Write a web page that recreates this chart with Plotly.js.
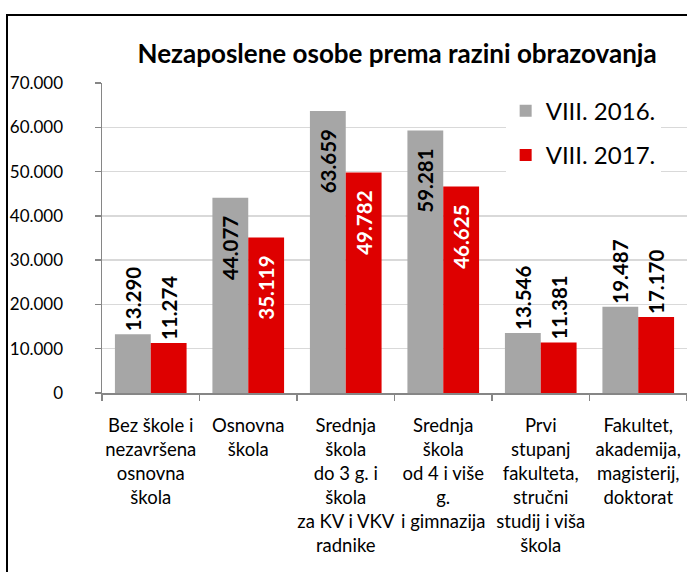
<!DOCTYPE html>
<html><head><meta charset="utf-8">
<script src="https://cdn.plot.ly/plotly-3.0.1.min.js"></script>
<style>html,body{margin:0;padding:0;background:#fff}#wrap{position:relative;width:687px;height:572px}#chart{width:687px;height:572px}#frame{position:absolute;left:6px;top:14px;width:700px;height:600px;border-left:2px solid #000;border-top:2px solid #000;pointer-events:none}</style>
</head><body><div id="wrap"><div id="chart"></div><div id="frame"></div></div>
<script>
const categories = [
  "Bez škole i<br>nezavršena<br>osnovna<br>škola",
  "Osnovna<br>škola",
  "Srednja<br>škola<br>do 3 g. i<br>škola<br>za KV i VKV<br>radnike",
  "Srednja<br>škola<br>od 4 i više<br>g.<br>i gimnazija",
  "Prvi<br>stupanj<br>fakulteta,<br>stručni<br>studij i viša<br>škola",
  "Fakultet,<br>akademija,<br>magisterij,<br>doktorat"
];
const seriesNames = ["VIII. 2016.", "VIII. 2017."];
const values2016 = [13290, 44077, 63659, 59281, 13546, 19487];
const values2017 = [11274, 35119, 49782, 46625, 11381, 17170];
const pos2016 = ["outside","inside","inside","inside","outside","outside"];
const pos2017 = ["outside","inside","inside","inside","outside","outside"];
const yTicks = [0,10000,20000,30000,40000,50000,60000,70000];

const FONT = "Lato, 'Open Sans', sans-serif";
const PAD = '\u00A0\u00A0\u00A0';
const traces = [
  {type:'bar', name:seriesNames[0], x:categories, y:values2016, legendgroup:'a',
   marker:{color:'#A6A6A6'}, texttemplate:'%{y:,.0f}'+PAD, textposition:pos2016, textangle:-90,
   insidetextanchor:'end', constraintext:'none', cliponaxis:false,
   insidetextfont:{color:'#000', size:20.5, family:FONT, weight:'bold'},
   outsidetextfont:{color:'#000', size:20.5, family:FONT, weight:'bold'}, hoverinfo:'skip'},
  {type:'bar', name:seriesNames[1], x:categories, y:values2017, legendgroup:'b',
   marker:{color:'#DE0000'}, texttemplate:'%{y:,.0f}'+PAD, textposition:pos2017, textangle:-90,
   insidetextanchor:'end', constraintext:'none', cliponaxis:false,
   insidetextfont:{color:'#fff', size:20.5, family:FONT, weight:'bold'},
   outsidetextfont:{color:'#000', size:20.5, family:FONT, weight:'bold'}, hoverinfo:'skip'}
];
const layout = {
  width:687, height:572,
  margin:{l:102, r:0, t:83, b:179},
  paper_bgcolor:'#fff', plot_bgcolor:'#fff',
  separators:',.',
  font:{family:FONT, color:'#000', size:18.5},
  title:{text:'<b>Nezaposlene osobe prema razini obrazovanja</b>', x:0.578, xanchor:'center', y:0.905, yanchor:'middle', font:{size:26, family:FONT, color:'#000'}},
  bargap:0.265, bargroupgap:0,
  xaxis:{type:'category', showline:true, linecolor:'#868686', linewidth:1.5, ticks:'outside', tickson:'boundaries', ticklen:6, tickcolor:'#868686', tickwidth:1.5, tickfont:{size:18.5, family:FONT}, tickangle:0, automargin:false, ticklabelstandoff:15},
  yaxis:{range:[0,70000], tickvals:yTicks, tickformat:',.0f', showline:true, linecolor:'#868686', linewidth:1.5, ticks:'outside', ticklen:6, tickcolor:'#868686', tickwidth:1.5, gridcolor:'#D9D9D9', gridwidth:1.5, zeroline:false, tickfont:{size:17, family:FONT}, automargin:false, ticklabelstandoff:28},
  legend:{x:0.69, xanchor:'left', y:0.982, yanchor:'top', bgcolor:'#fff', font:{size:24, family:FONT}, traceorder:'grouped', tracegroupgap:10, itemwidth:30},
  showlegend:true
};
Plotly.newPlot('chart', traces, layout, {staticPlot:true, displayModeBar:false});
</script></body></html>
